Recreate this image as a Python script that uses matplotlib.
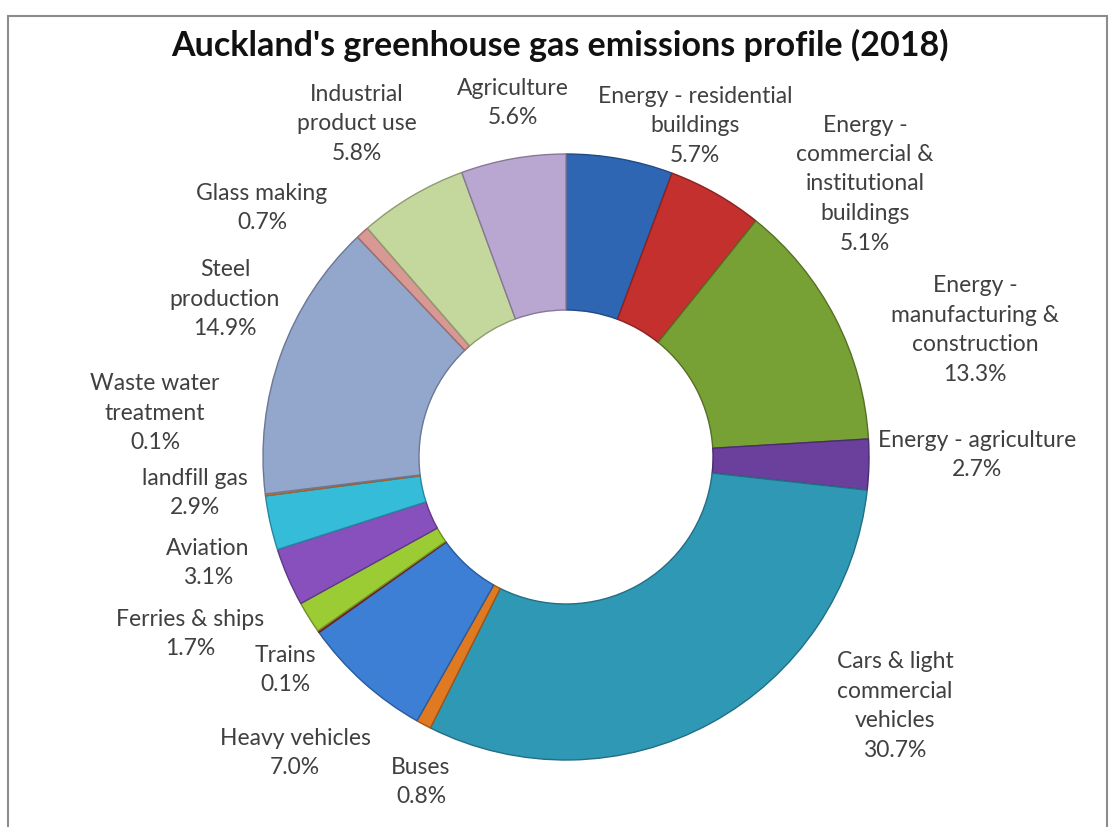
import matplotlib
matplotlib.use('Agg')
import matplotlib.pyplot as plt
from matplotlib.patches import Rectangle

# data, clockwise from 12 o'clock
sectors = ['Energy - residential\nbuildings', 'Energy -\ncommercial &\ninstitutional\nbuildings',
           'Energy -\nmanufacturing &\nconstruction', 'Energy - agriculture',
           'Cars & light\ncommercial\nvehicles', 'Buses', 'Heavy vehicles', 'Trains',
           'Ferries & ships', 'Aviation', 'landfill gas', 'Waste water\ntreatment',
           'Steel\nproduction', 'Glass making', 'Industrial\nproduct use', 'Agriculture']
shares = [5.7, 5.1, 13.3, 2.7, 30.7, 0.8, 7.0, 0.1, 1.7, 3.1, 2.9, 0.1, 14.9, 0.7, 5.8, 5.6]
colours = ['#2e66b4', '#c3302d', '#78a135', '#6b3f9c', '#2f98b4', '#e07a22', '#3c7fd5',
           '#a03030', '#9ccc34', '#8750bd', '#35bcd9', '#e08a40', '#93a6cb', '#d89894',
           '#c4d79c', '#b9a7d1']
edges = ['#1f4a85', '#8a2220', '#566f25', '#4a2c70', '#226f85', '#a05515', '#2a5a9a',
         '#702020', '#6e9025', '#5f3888', '#2688a0', '#a06030', '#6a7895', '#a06c6a',
         '#8d9c70', '#867898']

# label centres in picture pixels (x from left, y from top)
lab_x = [695, 865, 975, 977, 895, 421, 295, 285, 190, 208, 195, 155, 225, 262, 357, 513]
lab_y = [126, 184, 330, 455, 706, 782, 753, 670, 634, 563, 493, 413, 299, 208, 124, 103]

W, H = 1113, 827
fig = plt.figure(figsize=(W / 100, H / 100), dpi=100)
ax = fig.add_axes([0, 0, 1, 1])
ax.set_xlim(0, W)
ax.set_ylim(0, H)
ax.set_aspect('equal')
ax.axis('off')

# frame
ax.add_patch(Rectangle((8, -10), W - 14, H - 6, fill=False,
                       edgecolor='#8c8c8c', lw=1.5))

cx, cy, r = 566, H - 457, 303
wedges, _ = ax.pie(shares, colors=colours, startangle=90, counterclock=False,
                   center=(cx, cy), radius=r,
                   wedgeprops=dict(width=156, linewidth=1.0))
for w, ec in zip(wedges, edges):
    w.set_edgecolor(ec)
ax.set_xlim(0, W)
ax.set_ylim(0, H)

for name, v, x, y in zip(sectors, shares, lab_x, lab_y):
    ax.text(x, H - y, f'{name}\n{v:.1f}%', ha='center', va='center',
            fontsize=16.5, family='Lato', color='#404040', linespacing=1.5)

ax.text(560, H - 45, "Auckland's greenhouse gas emissions profile (2018)",
        ha='center', va='center', fontsize=24.5, fontweight='bold',
        family='Lato', color='#111111')

fig.savefig('out.png', dpi=100)
